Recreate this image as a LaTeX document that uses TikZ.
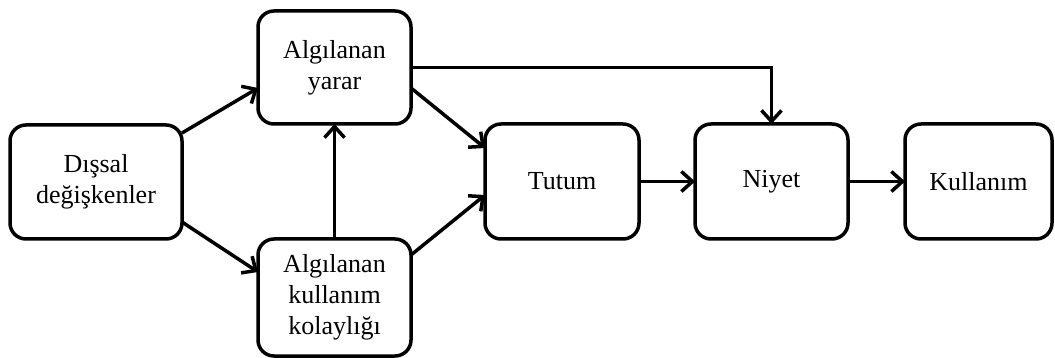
\documentclass[tikz,border=0pt]{standalone}
\usepackage{fontspec}
\setmainfont{Liberation Serif}
\usetikzlibrary{arrows.meta,calc}
\begin{document}
\begin{tikzpicture}[x=1pt,y=-1pt,
  box/.style={draw,line width=3.5pt,rounded corners=16pt,align=center,
    font=\fontsize{26}{31}\selectfont,inner sep=0pt,outer sep=0pt},
  conn/.style={line width=3.5pt,-{Straight Barb[length=11pt,width=20pt,line width=3.5pt]}}]
\useasboundingbox (0,0) rectangle (1055,358);
\node[box,minimum width=172pt,minimum height=114pt] (dis) at (96,182) {Dışsal\\değişkenler};
\node[box,minimum width=153pt,minimum height=113pt] (yar) at (334.5,67.5) {Algılanan\\yarar};
\node[box,minimum width=153pt,minimum height=117pt] (kol) at (334.5,297.5) {Algılanan\\kullanım\\kolaylığı};
\node[box,minimum width=154pt,minimum height=115pt] (tut) at (562,181.5) {Tutum};
\node[box,minimum width=153pt,minimum height=115pt] (niy) at (771.5,181.5) {Niyet};
\node[box,minimum width=147pt,minimum height=115pt] (kul) at (978.5,181.5) {Kullanım};
\draw[conn] ($(dis.north east)+(0,8)$) -- ($(yar.west)+(0,20.5)$);
\draw[conn] ($(dis.south east)+(0,-17)$) -- ($(kol.north west)+(0,33)$);
\draw[conn] (kol.north) -- (yar.south);
\draw[conn] ($(yar.east)+(0,20.5)$) -- ($(tut.west)+(0,-33.5)$);
\draw[conn] ($(kol.north east)+(0,16)$) -- ($(tut.west)+(0,13.5)$);
\draw[conn] (yar.east) -| (niy.north);
\draw[conn] (tut.east) -- (niy.west);
\draw[conn] (niy.east) -- (kul.west);
\end{tikzpicture}
\end{document}
